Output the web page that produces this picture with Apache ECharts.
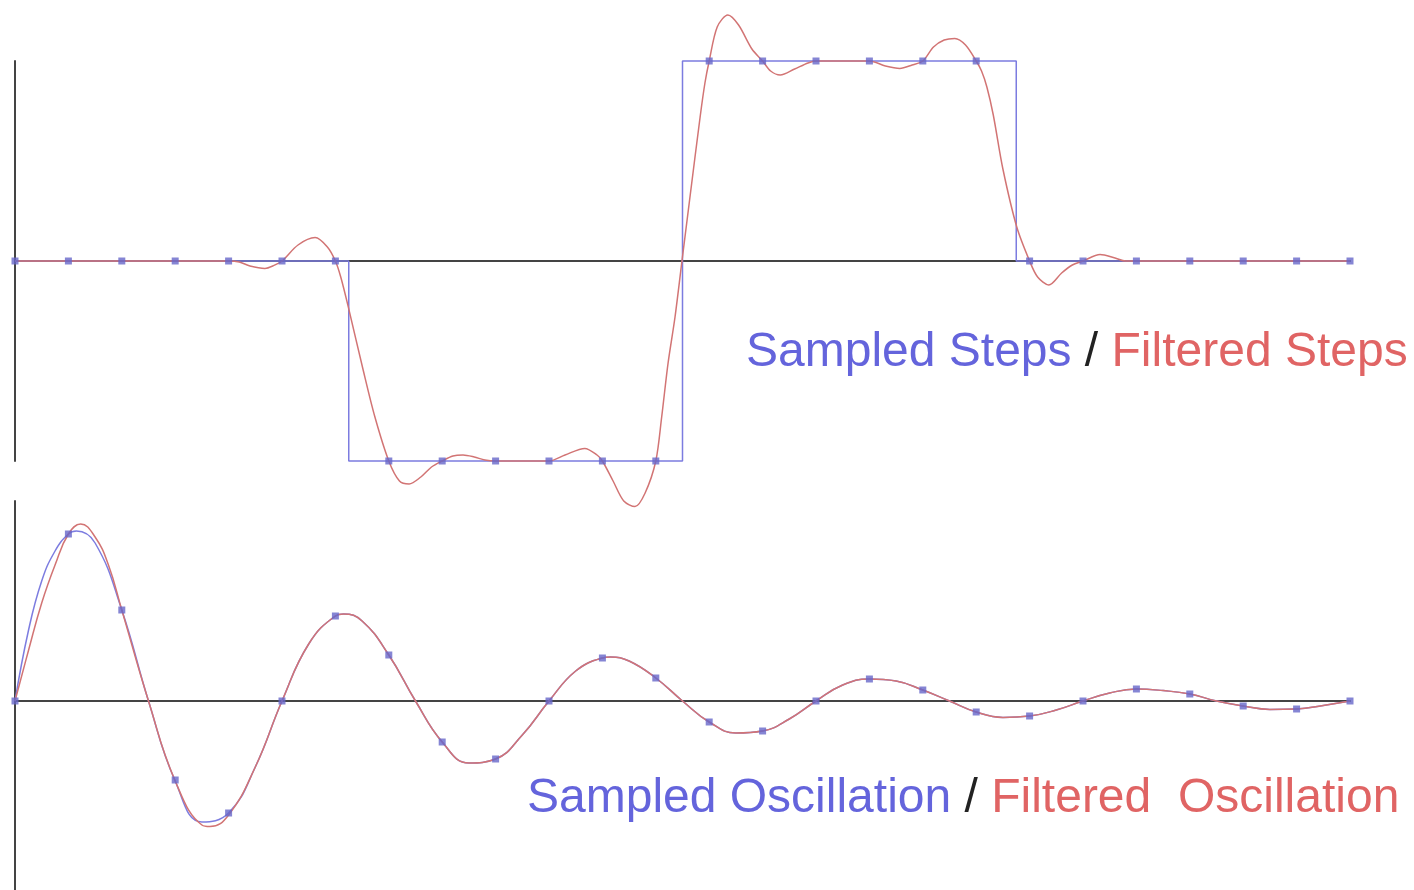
<!DOCTYPE html>
<html>
<head>
<meta charset="utf-8">
<script src="https://cdn.jsdelivr.net/npm/echarts@6/dist/echarts.min.js"></script>
<style>
html,body{margin:0;padding:0;background:#fff;}
#chart{width:1414px;height:890px;}
</style>
</head>
<body>
<div id="chart"></div>
<script>
// ---- data (t in sample units) ----
var sampleT = [0,1,2,3,4,5,6,7,8,9,10,11,12,13,14,15,16,17,18,19,20,21,22,23,24,25];
var stepSamples = [0,0,0,0,0,0,0,-1,-1,-1,-1,-1,-1,1,1,1,1,1,1,0,0,0,0,0,0,0];
var oscSamples = [0,0.835,0.455,-0.395,-0.56,0,0.425,0.23,-0.205,-0.29,0,0.215,0.115,-0.105,-0.15,0,0.11,0.055,-0.055,-0.075,0,0.06,0.035,-0.025,-0.04,0];

// continuous sampled step signal (blue outline)
var stepLineT = [0,6.25,6.25,12.5,12.5,18.75,18.75,25];
var stepLineV = [0,0,-1,-1,1,1,0,0];

// filtered steps (red)
var filtStepT = [0,4,4.2,4.4,4.68,4.85,5,5.3,5.62,5.85,6,6.1,6.24,6.52,6.74,7,7.2,7.38,7.6,7.8,8,8.2,8.39,8.6,8.8,9,10,10.3,10.67,10.9,11,11.2,11.4,11.61,11.8,12,12.11,12.23,12.36,12.49,12.64,12.83,12.92,13,13.15,13.35,13.55,13.8,14,14.15,14.33,14.6,14.85,15,16,16.3,16.57,16.8,17,17.2,17.4,17.6,17.8,18,18.1,18.2,18.32,18.5,18.76,19,19.15,19.36,19.6,19.8,20,20.32,20.6,20.8,25];
var filtStepV = [0,0,-0.005,-0.025,-0.037,-0.022,0,0.08,0.117,0.07,0,-0.08,-0.228,-0.545,-0.78,-1.0,-1.1,-1.115,-1.08,-1.03,-1.0,-0.975,-0.97,-0.98,-0.995,-1.0,-1.0,-0.97,-0.937,-0.97,-1.0,-1.1,-1.2,-1.228,-1.16,-1.0,-0.78,-0.51,-0.28,0,0.32,0.72,0.89,1.0,1.17,1.23,1.18,1.06,1.0,0.95,0.93,0.96,0.99,1.0,1.0,0.975,0.963,0.98,1.0,1.07,1.105,1.113,1.08,1.0,0.95,0.87,0.73,0.46,0.17,0,-0.08,-0.12,-0.06,-0.02,0,0.033,0.015,0,0];

// sampled oscillation (blue continuous)
var oscT = [0,0.25,0.5,0.75,1,1.15,1.5,2,2.5,3,3.5,4,4.5,5,5.5,6,6.15,6.5,7,7.5,8,8.5,9,9.5,10,10.5,11,11.15,11.5,12,12.5,13,13.5,14,14.5,15,15.5,16,16.5,17,17.5,18,18.5,19,19.5,20,20.5,21,21.5,22,22.5,23,23.5,24,24.5,25];
var oscV = [0,0.35,0.6,0.75,0.835,0.85,0.79,0.455,0,-0.4,-0.605,-0.56,-0.33,0,0.285,0.425,0.435,0.4,0.23,0,-0.205,-0.31,-0.29,-0.17,0,0.15,0.215,0.22,0.2,0.115,0,-0.105,-0.16,-0.15,-0.09,0,0.08,0.11,0.1,0.055,0,-0.055,-0.082,-0.075,-0.045,0,0.04,0.06,0.052,0.035,0,-0.025,-0.042,-0.04,-0.022,0];

// filtered oscillation (red)
var filtOscT = [0,0.25,0.5,0.75,1,1.23,1.5,1.75,2,2.5,3,3.5,3.65,4,4.5,5,5.5,6,6.15,6.5,7,7.5,8,8.5,9,9.5,10,10.5,11,11.15,11.5,12,12.5,13,13.5,14,14.5,15,15.5,16,16.5,17,17.5,18,18.5,19,19.5,20,20.5,21,21.5,22,22.5,23,23.5,24,24.5,25];
var filtOscV = [0,0.25,0.49,0.68,0.835,0.885,0.82,0.68,0.455,0,-0.4,-0.62,-0.628,-0.57,-0.33,0,0.285,0.425,0.435,0.4,0.23,0,-0.205,-0.31,-0.29,-0.17,0,0.15,0.215,0.22,0.2,0.115,0,-0.105,-0.16,-0.15,-0.09,0,0.08,0.11,0.1,0.055,0,-0.055,-0.082,-0.075,-0.045,0,0.04,0.06,0.052,0.035,0,-0.025,-0.042,-0.04,-0.022,0];

function zip(a, b) { return a.map(function (v, i) { return [v, b[i]]; }); }

var BLUE_LINE = '#7c7ce0';
var RED_LINE = '#d27474';
var MARK = '#6767c9';
var AXIS = '#444444';
var FONT = '48px "Liberation Sans", Arial, sans-serif';

var chart = echarts.init(document.getElementById('chart'));

function xAx(gi) {
  return {
    type: 'value', gridIndex: gi, min: 0, max: 25,
    axisLine: { show: true, onZero: true, lineStyle: { color: AXIS, width: 2 } },
    axisTick: { show: false }, axisLabel: { show: false }, splitLine: { show: false }
  };
}
function yAx(gi, mn, mx) {
  return {
    type: 'value', gridIndex: gi, min: mn, max: mx,
    axisLine: { show: true, onZero: false, lineStyle: { color: AXIS, width: 2 } },
    axisTick: { show: false }, axisLabel: { show: false }, splitLine: { show: false }
  };
}

chart.setOption({
  animation: false,
  backgroundColor: '#ffffff',
  grid: [
    { left: 15, top: 61, width: 1335, height: 400 },
    { left: 15, top: 501, width: 1335, height: 389 }
  ],
  xAxis: [xAx(0), xAx(1)],
  yAxis: [yAx(0, -1, 1), yAx(1, -0.945, 1)],
  series: [
    { type: 'line', xAxisIndex: 0, yAxisIndex: 0, data: zip(stepLineT, stepLineV), symbol: 'none', clip: false,
      lineStyle: { color: BLUE_LINE, width: 1.5 }, z: 3 },
    { type: 'line', xAxisIndex: 0, yAxisIndex: 0, data: zip(filtStepT, filtStepV), symbol: 'none', smooth: 0.3, clip: false,
      lineStyle: { color: RED_LINE, width: 1.5 }, z: 4 },
    { type: 'scatter', xAxisIndex: 0, yAxisIndex: 0, data: zip(sampleT, stepSamples), symbol: 'rect', symbolSize: 7, clip: false,
      itemStyle: { color: MARK }, z: 5 },
    { type: 'line', xAxisIndex: 1, yAxisIndex: 1, data: zip(oscT, oscV), symbol: 'none', smooth: 0.45, clip: false,
      lineStyle: { color: BLUE_LINE, width: 1.5 }, z: 3 },
    { type: 'line', xAxisIndex: 1, yAxisIndex: 1, data: zip(filtOscT, filtOscV), symbol: 'none', smooth: 0.45, clip: false,
      lineStyle: { color: RED_LINE, width: 1.5 }, z: 4 },
    { type: 'scatter', xAxisIndex: 1, yAxisIndex: 1, data: zip(sampleT, oscSamples), symbol: 'rect', symbolSize: 7, clip: false,
      itemStyle: { color: MARK }, z: 5 }
  ],
  graphic: [
    { type: 'text', left: 746, top: 329, z: 10,
      style: { text: '{b|Sampled Steps} {k|/} {r|Filtered Steps}', font: FONT,
        rich: {
          b: { fill: '#6464dc', font: FONT },
          k: { fill: '#222222', font: FONT },
          r: { fill: '#e06464', font: FONT }
        } } },
    { type: 'text', left: 527, top: 775, z: 10,
      style: { text: '{b|Sampled Oscillation} {k|/} {r|Filtered  Oscillation}', font: FONT,
        rich: {
          b: { fill: '#6464dc', font: FONT },
          k: { fill: '#222222', font: FONT },
          r: { fill: '#e06464', font: FONT }
        } } }
  ]
});
</script>
</body>
</html>
